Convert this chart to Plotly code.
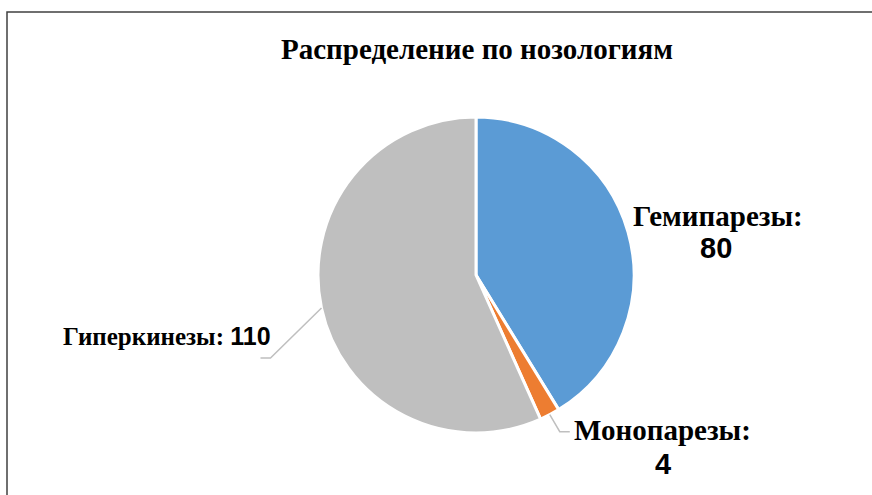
import math
import plotly.graph_objects as go

categories = ["Гемипарезы", "Монопарезы", "Гиперкинезы"]
values = [80, 4, 110]
colors = ["#5B9BD5", "#ED7D31", "#BFBFBF"]
title_text = "Распределение по нозологиям"

W, H = 872, 495
cx, cy, r = 476, 275, 158  # pixel geometry of the pie

fig = go.Figure(go.Pie(
    labels=categories, values=values, sort=False, direction="clockwise",
    rotation=0, marker=dict(colors=colors, line=dict(color="white", width=3)),
    textinfo="none", hoverinfo="label+value", showlegend=False,
    domain=dict(x=[(cx - r) / W, (cx + r) / W], y=[(H - cy - r) / H, (H - cy + r) / H]),
))

# mid-angle of each slice (clockwise from 12 o'clock), derived from data
total = sum(values)
mids = []
acc = 0
for v in values:
    mids.append((acc + v / 2) / total * 2 * math.pi)
    acc += v

def edge(i, rr=r):
    a = mids[i]
    return cx + rr * math.sin(a), cy - rr * math.cos(a)

serif = "Liberation Serif"
sans = "Liberation Sans"

def px(x, y):
    return x / W, 1 - y / H

shapes = []
annotations = []

def note(x, y, text, family, size):
    ax, ay = px(x, y)
    annotations.append(dict(x=ax, y=ay, xref="paper", yref="paper", showarrow=False,
                            xanchor="center", yanchor="middle", text=text,
                            font=dict(family=family, size=size, color="black")))

# title
note(477, 49, "<b>" + title_text + "</b>", serif, 29)

# label: Гемипарезы (no leader line)
note(718, 216, "<b>%s:</b>" % categories[0], serif, 29)
note(716, 248, "<b>%d</b>" % values[0], sans, 29)

# label: Монопарезы with leader line
sx, sy = edge(1)
shapes.append(dict(type="path", xref="paper", yref="paper",
                   path="M %f %f L %f %f L %f %f" % (*px(sx, sy), *px(sx + 10, sy + 17), *px(sx + 20, sy + 17)),
                   line=dict(color="#BFBFBF", width=1.5)))
note(662, 430, "<b>%s:</b>" % categories[1], serif, 29)
note(663, 464, "<b>%d</b>" % values[1], sans, 29)

# label: Гиперкинезы with leader line
sx, sy = edge(2)
shapes.append(dict(type="path", xref="paper", yref="paper",
                   path="M %f %f L %f %f L %f %f" % (*px(sx, sy), *px(sx - 51, sy + 50), *px(sx - 61, sy + 50)),
                   line=dict(color="#BFBFBF", width=1.5)))
note(167, 336, "<b>%s: <span style='font-family:%s'>%d</span></b>" % (categories[2], sans, values[2]), serif, 25)

# chart frame (top and left edges visible)
shapes.append(dict(type="path", xref="paper", yref="paper",
                   path="M %f %f L %f %f L %f %f" % (*px(7, H + 5), *px(7, 12), *px(W + 5, 12)),
                   line=dict(color="#404040", width=1.5)))

fig.update_layout(width=W, height=H, margin=dict(l=0, r=0, t=0, b=0),
                  paper_bgcolor="white", plot_bgcolor="white",
                  shapes=shapes, annotations=annotations)

fig.write_html("out.html", config={"displayModeBar": False},
               post_script="document.body.style.margin='0px';document.body.style.overflow='hidden';")
